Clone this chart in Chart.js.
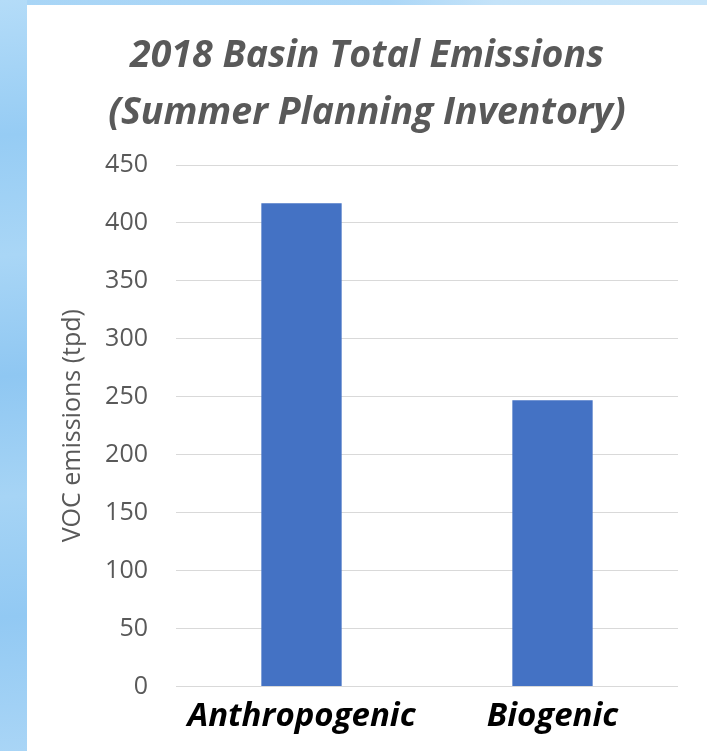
<!DOCTYPE html>
<html>
<head>
<meta charset="utf-8">
<script src="https://cdn.jsdelivr.net/npm/chart.js@4"></script>
<style>
  html, body { margin: 0; padding: 0; }
  body {
    width: 707px; height: 751px; overflow: hidden; position: relative;
    background: linear-gradient(90deg, #a8d5f6 0%, #acd7f7 55%, #c4e3f9 70%, #c8e5f9 100%);
  }
  .strip {
    position: absolute; left: 0; top: 0; width: 27px; height: 751px;
    background: linear-gradient(175deg, #b4dcf8 0%, #96ccf4 18%, #a9d6f6 34%, #8fc7f2 50%, #a6d4f5 66%, #92c9f3 82%, #a9d5f6 100%);
  }
  .panel {
    position: absolute; left: 27px; top: 5px; width: 680px; height: 746px;
    background: #fff;
  }
  canvas { position: absolute; left: 0; top: 0; }
</style>
</head>
<body>
<div class="strip"></div>
<div class="panel"></div>
<canvas id="chart" width="707" height="751"></canvas>
<script>
const categories = ['Anthropogenic', 'Biogenic'];
const vocEmissions = [417, 247];
const titleLines = ['2018 Basin Total Emissions', '(Summer Planning Inventory)'];
const yAxisTitle = 'VOC emissions (tpd)';

const ctx = document.getElementById('chart').getContext('2d');
new Chart(ctx, {
  type: 'bar',
  data: {
    labels: categories,
    datasets: [{
      label: yAxisTitle,
      data: vocEmissions,
      backgroundColor: '#4472c4',
      borderWidth: 0,
      categoryPercentage: 1,
      barPercentage: 0.32
    }]
  },
  options: {
    responsive: false,
    animation: false,
    layout: { padding: { left: 56, right: 29, top: 28, bottom: 5 } },
    plugins: {
      legend: { display: false },
      tooltip: { enabled: false },
      title: {
        display: true,
        text: titleLines,
        color: '#595959',
        font: { family: 'Open Sans', size: 37.5, weight: 'bold', style: 'italic', lineHeight: 1.52 },
        padding: { top: 0, bottom: 23 }
      }
    },
    scales: {
      x: {
        grid: { display: false, drawTicks: false },
        border: { display: false },
        ticks: {
          color: '#000',
          padding: 10,
          font: { family: 'Open Sans', size: 33, weight: 'bold', style: 'italic', lineHeight: 1.2 }
        }
      },
      y: {
        min: 0,
        max: 450,
        border: { display: false },
        grid: { color: '#d9d9d9', lineWidth: 1, drawTicks: false },
        ticks: {
          stepSize: 50,
          color: '#595959',
          padding: 28,
          font: { family: 'Open Sans', size: 25 }
        },
        title: {
          display: true,
          text: yAxisTitle,
          color: '#595959',
          font: { family: 'Open Sans', size: 25, lineHeight: 1.2 },
          padding: { top: 2, bottom: 0 }
        },
        // tick padding is counted twice in fit(), so pin the axis width
        afterFit: (scale) => { scale.width = 120; }
      }
    }
  }
});
</script>
</body>
</html>
